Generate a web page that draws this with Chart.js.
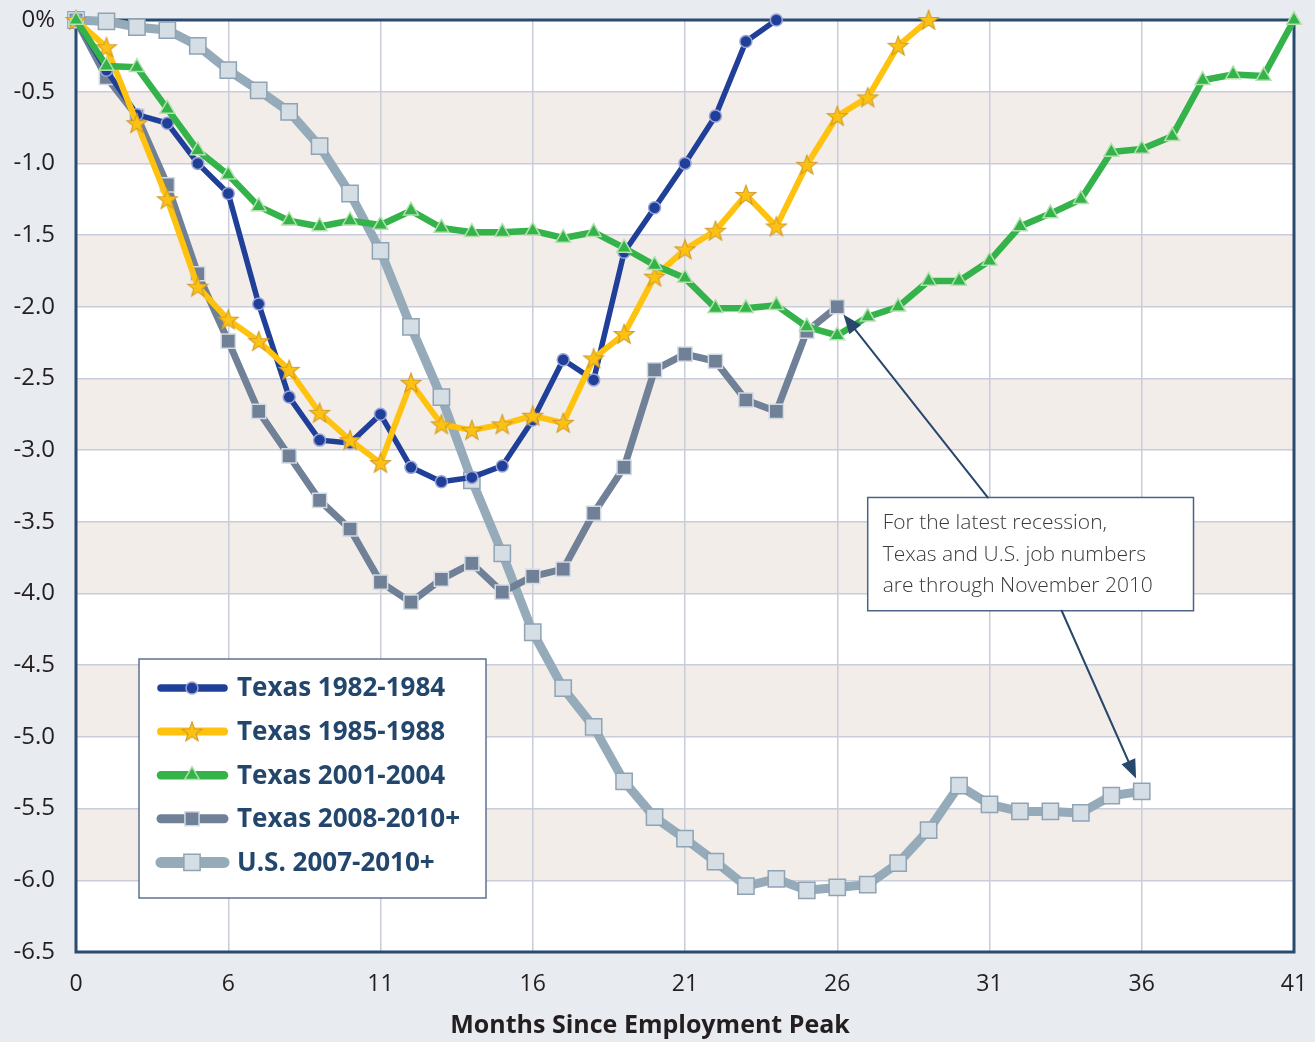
<!DOCTYPE html>
<html>
<head>
<meta charset="utf-8">
<script src="https://cdn.jsdelivr.net/npm/chart.js@4.4.1/dist/chart.umd.min.js"></script>
<style>
  html, body { margin: 0; padding: 0; background: #e8ebf0; }
  #wrap { width: 1315px; height: 1042px; }
</style>
</head>
<body>
<div id="wrap"><canvas id="grafico" width="1315" height="1042"></canvas></div>
<script>
// months since peak (position on the axis) and the printed tick labels
const months = [0, 1, 2, 3, 4, 5, 6, 7, 8, 9, 10, 11, 12, 13, 14, 15, 16, 17, 18, 19, 20,
  21, 22, 23, 24, 25, 26, 27, 28, 29, 30, 31, 32, 33, 34, 35, 36, 37, 38, 39, 40]
const xTickLabels = ['0', '6', '11', '16', '21', '26', '31', '36', '41']

// percent change in jobs from the peak
const tx8284 = [0, -0.35, -0.66, -0.72, -1.00, -1.21, -1.98, -2.63, -2.93, -2.95, -2.75, -3.12,
  -3.22, -3.19, -3.11, -2.79, -2.37, -2.51, -1.62, -1.31, -1.00, -0.67, -0.15, 0]
const tx8588 = [0, -0.19, -0.72, -1.25, -1.86, -2.09, -2.24, -2.44, -2.74, -2.93, -3.09, -2.53,
  -2.82, -2.86, -2.82, -2.76, -2.81, -2.36, -2.19, -1.79, -1.60, -1.47, -1.22, -1.44, -1.01,
  -0.67, -0.54, -0.18, 0]
const tx0104 = [0, -0.32, -0.33, -0.62, -0.91, -1.08, -1.30, -1.40, -1.44, -1.40, -1.43, -1.33,
  -1.45, -1.48, -1.48, -1.47, -1.52, -1.48, -1.59, -1.71, -1.80, -2.01, -2.01, -1.99, -2.14,
  -2.20, -2.07, -2.00, -1.82, -1.82, -1.68, -1.44, -1.35, -1.25, -0.92, -0.90, -0.81, -0.42,
  -0.38, -0.39, 0]
const tx0810 = [0, -0.40, -0.67, -1.15, -1.77, -2.24, -2.73, -3.04, -3.35, -3.55, -3.92, -4.06,
  -3.90, -3.79, -3.99, -3.88, -3.83, -3.44, -3.12, -2.44, -2.33, -2.38, -2.65, -2.73, -2.17, -2.00]
const us0710 = [0, -0.01, -0.05, -0.07, -0.18, -0.35, -0.49, -0.64, -0.88, -1.21, -1.61, -2.14,
  -2.63, -3.21, -3.72, -4.27, -4.66, -4.93, -5.31, -5.56, -5.71, -5.87, -6.04, -5.99, -6.07,
  -6.05, -6.03, -5.88, -5.65, -5.34, -5.47, -5.52, -5.52, -5.53, -5.41, -5.38]

const noteLines = ['For the latest recession,', 'Texas and U.S. job numbers', 'are through November 2010']
const xTitle = 'Months Since Employment Peak'

const font = '"Open Sans", "Noto Sans", sans-serif'

// five point star for the 1985-1988 series
const estrella = document.createElement('canvas')
estrella.width = 24
estrella.height = 24
const sc = estrella.getContext('2d')
sc.beginPath()
for (let k = 0; k < 10; k++) {
    const r = k % 2 === 0 ? 10.5 : 4.3
    const a = -Math.PI / 2 + k * Math.PI / 5
    sc.lineTo(12 + r * Math.cos(a), 12.8 + r * Math.sin(a))
}
sc.closePath()
sc.fillStyle = '#fdc112'
sc.fill()
sc.strokeStyle = '#cf9a2c'
sc.lineWidth = 1.1
sc.stroke()

const serie = (label, values, color, width, style, radius, fill, stroke, order) => ({
    label: label,
    data: values.map((v, i) => ({ x: months[i], y: v })),
    borderColor: color,
    backgroundColor: fill,
    borderWidth: width,
    pointStyle: style,
    pointRadius: radius,
    pointBackgroundColor: fill,
    pointBorderColor: stroke,
    pointBorderWidth: 1.5,
    borderJoinStyle: 'round',
    tension: 0,
    clip: false,
    order: order
})

const datasets = [
    serie('Texas 1982-1984', tx8284, '#1f3f99', 5.5, 'circle', 6, '#1f3f99', '#9aa3d6', 3),
    serie('Texas 1985-1988', tx8588, '#ffc20e', 6, estrella, 9, '#fdc112', '#cf9a2c', 2),
    serie('Texas 2001-2004', tx0104, '#34b34a', 6.5, 'triangle', 8.5, '#34b34a', '#b3e0ad', 1),
    serie('Texas 2008-2010+', tx0810, '#6f8097', 7, 'rect', 10, '#6f8097', '#d3dae3', 4),
    serie('U.S. 2007-2010+', us0710, '#95abb9', 9, 'rect', 11.5, '#d5dde5', '#8ea4b5', 5)
]

// background, shaded bands and frame
const fondo = {
    id: 'fondo',
    beforeDraw(chart) {
        const { ctx, chartArea: a, scales: { y } } = chart
        ctx.save()
        ctx.fillStyle = '#e8ebf0'
        ctx.fillRect(0, 0, chart.width, chart.height)
        ctx.fillStyle = '#ffffff'
        ctx.fillRect(a.left, a.top, a.right - a.left, a.bottom - a.top)
        ctx.fillStyle = '#f2ede9'
        const t = y.ticks.map(k => k.value).sort((p, q) => q - p)
        for (let i = 1; i < t.length - 1; i += 2) {
            const y1 = y.getPixelForValue(t[i])
            const y2 = y.getPixelForValue(t[i + 1])
            ctx.fillRect(a.left, y1, a.right - a.left, y2 - y1)
        }
        ctx.restore()
    },
    beforeDatasetsDraw(chart) {
        const { ctx, chartArea: a } = chart
        ctx.save()
        ctx.strokeStyle = '#2b4a70'
        ctx.lineWidth = 3
        ctx.strokeRect(a.left, a.top, a.right - a.left, a.bottom - a.top)
        ctx.restore()
    }
}

const flecha = (ctx, x1, y1, x2, y2) => {
    const ang = Math.atan2(y2 - y1, x2 - x1)
    const len = 19, half = 7.5
    const bx = x2 - len * Math.cos(ang), by = y2 - len * Math.sin(ang)
    ctx.beginPath()
    ctx.moveTo(x1, y1)
    ctx.lineTo(bx, by)
    ctx.stroke()
    ctx.beginPath()
    ctx.moveTo(x2, y2)
    ctx.lineTo(bx + half * Math.sin(ang), by - half * Math.cos(ang))
    ctx.lineTo(bx - half * Math.sin(ang), by + half * Math.cos(ang))
    ctx.closePath()
    ctx.fill()
}

// legend box, axis title and the note with its two arrows
const extras = {
    id: 'extras',
    afterDatasetsDraw(chart) {
        const { ctx, scales: { x, y } } = chart
        const h = Chart.helpers
        ctx.save()

        // legend
        const lx = 139, ly = 659, lw = 347, lh = 239
        ctx.fillStyle = '#ffffff'
        ctx.fillRect(lx, ly, lw, lh)
        ctx.strokeStyle = '#5d7291'
        ctx.lineWidth = 1.5
        ctx.strokeRect(lx, ly, lw, lh)
        chart.data.datasets.forEach((ds, k) => {
            const ry = 688 + k * 43.6
            ctx.strokeStyle = ds.borderColor
            ctx.lineWidth = ds.borderWidth + 2
            ctx.lineCap = 'round'
            ctx.beginPath()
            ctx.moveTo(161, ry)
            ctx.lineTo(224, ry)
            ctx.stroke()
            ctx.fillStyle = ds.pointBackgroundColor
            ctx.strokeStyle = ds.pointBorderColor
            ctx.lineWidth = ds.pointBorderWidth
            h.drawPoint(ctx, { pointStyle: ds.pointStyle, radius: ds.pointRadius, rotation: 0, borderWidth: ds.pointBorderWidth }, 192, ry)
            ctx.fillStyle = '#23466c'
            ctx.font = '700 26px ' + font
            ctx.textAlign = 'left'
            ctx.textBaseline = 'middle'
            ctx.fillText(ds.label, 237, ry + 1)
        })

        // axis title
        ctx.fillStyle = '#231f20'
        ctx.font = '700 25px ' + font
        ctx.textAlign = 'center'
        ctx.textBaseline = 'middle'
        ctx.fillText(xTitle, 650, 1026)

        // note
        const bl = x.getPixelForValue(26), bt = y.getPixelForValue(-3.33)
        const br = x.getPixelForValue(36.7), bb = y.getPixelForValue(-4.12)
        ctx.fillStyle = '#ffffff'
        ctx.fillRect(bl, bt, br - bl, bb - bt)
        ctx.strokeStyle = '#4b6485'
        ctx.lineWidth = 1.5
        ctx.strokeRect(bl, bt, br - bl, bb - bt)
        ctx.fillStyle = '#3a3a3a'
        ctx.font = '300 21px ' + font
        ctx.textAlign = 'left'
        ctx.textBaseline = 'middle'
        noteLines.forEach((t, k) => ctx.fillText(t, bl + 15, bt + 26 + k * 31.5))

        ctx.strokeStyle = '#27476b'
        ctx.fillStyle = '#27476b'
        ctx.lineWidth = 2
        const p1 = chart.getDatasetMeta(3).data[tx0810.length - 1]
        const p2 = chart.getDatasetMeta(4).data[us0710.length - 1]
        const s1 = { x: bl + 120, y: bt }
        const s2 = { x: bl + 194, y: bb }
        const tip = (s, p, back) => {
            const d = Math.hypot(p.x - s.x, p.y - s.y)
            return { x: p.x - (p.x - s.x) * back / d, y: p.y - (p.y - s.y) * back / d }
        }
        const t1 = tip(s1, p1, 10), t2 = tip(s2, p2, 14)
        flecha(ctx, s1.x, s1.y, t1.x, t1.y)
        flecha(ctx, s2.x, s2.y, t2.x, t2.y)
        ctx.restore()
    }
}

const config = {
    type: 'line',
    data: { datasets: datasets },
    options: {
        responsive: false,
        animation: false,
        layout: { padding: { top: 20, right: 21, left: 0, bottom: 0 } },
        plugins: { legend: { display: false }, tooltip: { enabled: false } },
        scales: {
            x: {
                type: 'linear',
                min: 0,
                max: 40,
                afterFit: (s) => {
                    s.height = 90
                    s.paddingLeft = 0
                    s.paddingRight = 0
                },
                ticks: {
                    stepSize: 5,
                    autoSkip: false,
                    maxRotation: 0,
                    padding: 19,
                    color: '#231f20',
                    font: { family: font, size: 23 },
                    callback: (v) => xTickLabels[v / 5]
                },
                grid: { color: '#c9ccd9', lineWidth: 1.5, drawTicks: false },
                border: { display: false }
            },
            y: {
                min: -6.5,
                max: 0,
                afterFit: (s) => {
                    s.width = 76
                    s.paddingTop = 0
                    s.paddingBottom = 0
                },
                ticks: {
                    stepSize: 0.5,
                    padding: 21,
                    color: '#231f20',
                    font: { family: font, size: 24 },
                    callback: (v) => v === 0 ? '0%' : v.toFixed(1)
                },
                grid: { color: '#c9ccd9', lineWidth: 1.5, drawTicks: false },
                border: { display: false }
            }
        }
    },
    plugins: [fondo, extras]
}

const grafico = new Chart(document.querySelector('#grafico'), config)
</script>
</body>
</html>
